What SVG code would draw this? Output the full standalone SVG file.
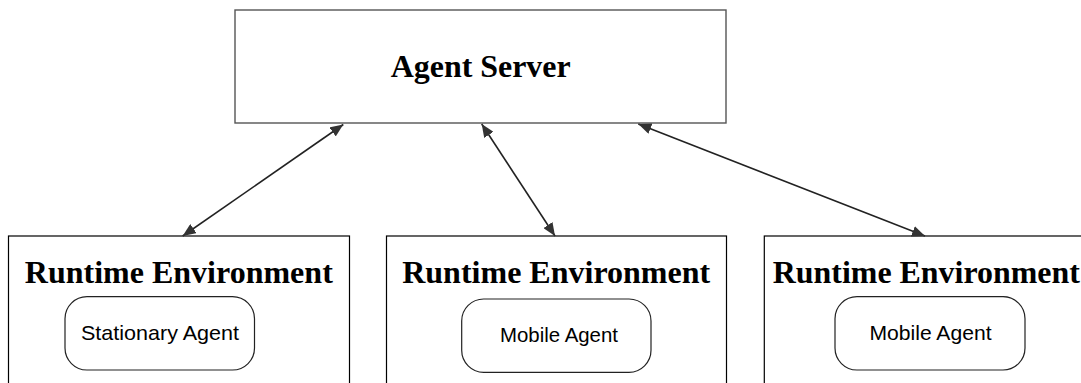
<svg xmlns="http://www.w3.org/2000/svg" width="1081" height="383" viewBox="0 0 1081 383">
  <style>
    .box { fill: #ffffff; stroke: #000000; stroke-width: 1.2; }
    .server { fill: #ffffff; stroke: #555555; stroke-width: 1.4; }
    .agent { fill: #ffffff; stroke: #222222; stroke-width: 1.2; }
    .title { font-family: "Liberation Serif", "Times New Roman", serif; font-weight: bold; font-size: 32px; fill: #000000; text-anchor: middle; }
    .label { font-family: "Liberation Sans", Arial, sans-serif; font-size: 21px; fill: #000000; text-anchor: middle; }
    .link { stroke: #222222; stroke-width: 1.6; fill: none; marker-start: url(#head); marker-end: url(#head); }
  </style>
  <defs>
    <marker id="head" viewBox="0 0 13 11" refX="13" refY="5.5" markerWidth="13" markerHeight="11" markerUnits="userSpaceOnUse" orient="auto-start-reverse">
      <path d="M0,0 L13,5.5 L0,11 Z" fill="#333333"/>
    </marker>
  </defs>
  <rect width="1081" height="383" fill="#ffffff"/>

  <g id="agent-server">
    <rect class="server" x="235" y="10" width="491" height="113"/>
    <text class="title" x="480.7" y="76.7" font-size="33" textLength="180" lengthAdjust="spacingAndGlyphs">Agent Server</text>
  </g>

  <g id="runtime-1">
    <rect class="box" x="8.5" y="236" width="341" height="160"/>
    <text class="title" x="178.8" y="283.3" textLength="308" lengthAdjust="spacingAndGlyphs">Runtime Environment</text>
    <rect class="agent" x="65" y="296.7" width="189.5" height="73.3" rx="22" ry="22"/>
    <text class="label" x="160" y="340" textLength="158" lengthAdjust="spacingAndGlyphs">Stationary Agent</text>
  </g>

  <g id="runtime-2">
    <rect class="box" x="386.5" y="236" width="340" height="160"/>
    <text class="title" x="556.2" y="283.3" textLength="308" lengthAdjust="spacingAndGlyphs">Runtime Environment</text>
    <rect class="agent" x="461.7" y="299" width="189.3" height="73.3" rx="22" ry="22"/>
    <text class="label" x="559" y="342.3" textLength="118" lengthAdjust="spacingAndGlyphs">Mobile Agent</text>
  </g>

  <g id="runtime-3">
    <rect class="box" x="764.3" y="236" width="341" height="160"/>
    <text class="title" x="926.3" y="283.3" textLength="307" lengthAdjust="spacingAndGlyphs">Runtime Environment</text>
    <rect class="agent" x="835" y="296.7" width="190" height="73.3" rx="22" ry="22"/>
    <text class="label" x="930.5" y="339.5" textLength="122" lengthAdjust="spacingAndGlyphs">Mobile Agent</text>
  </g>

  <g id="connectors">
    <line class="link" x1="343.3" y1="124.5" x2="182.7" y2="236"/>
    <line class="link" x1="481.7" y1="124" x2="555" y2="236"/>
    <line class="link" x1="638.3" y1="124" x2="925" y2="236"/>
  </g>
</svg>
